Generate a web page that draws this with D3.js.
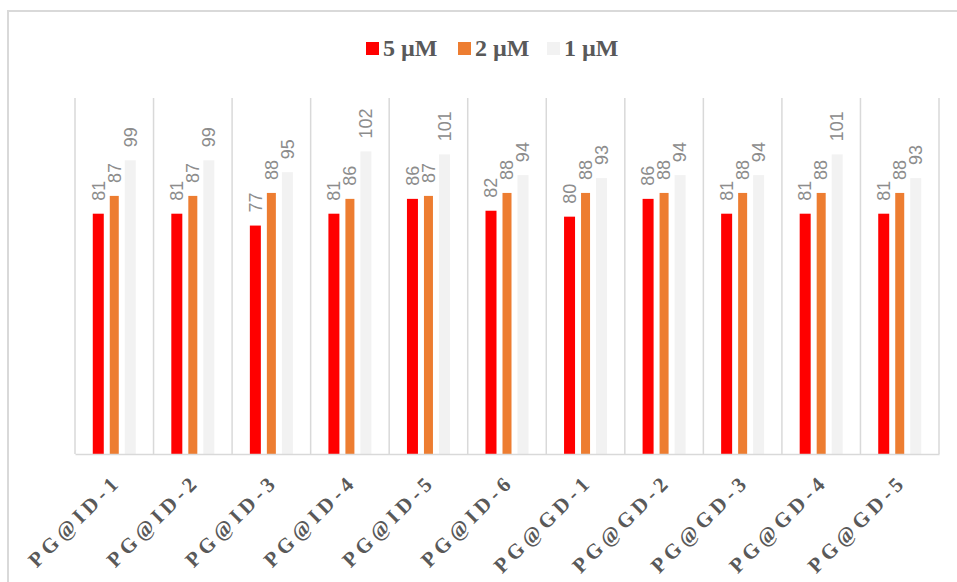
<!DOCTYPE html>
<html>
<head>
<meta charset="utf-8">
<script src="https://cdn.jsdelivr.net/npm/d3@7"></script>
<style>
  html, body { margin: 0; padding: 0; background: #fff; }
  svg { display: block; }
</style>
</head>
<body>
<svg id="chart" width="957" height="582"></svg>
<script>
// Samples and concentration series
const categories = ["PG@ID-1", "PG@ID-2", "PG@ID-3", "PG@ID-4", "PG@ID-5", "PG@ID-6",
                    "PG@GD-1", "PG@GD-2", "PG@GD-3", "PG@GD-4", "PG@GD-5"];
const seriesNames = ["5 \u00b5M", "2 \u00b5M", "1 \u00b5M"];
const values5uM = [81, 81, 77, 81, 86, 82, 80, 86, 81, 81, 81];
const values2uM = [87, 87, 88, 86, 87, 88, 88, 88, 88, 88, 88];
const values1uM = [99, 99, 95, 102, 101, 94, 93, 94, 94, 101, 93];
const yDomain = [0, 120];

const colors = ["#ff0000", "#ed7d31", "#f2f2f2"];
const barWidths = [11, 9, 11];
const allSeries = [values5uM, values2uM, values1uM];

const svg = d3.select("#chart");
const plot = { left: 75, right: 939, top: 98, bottom: 454 };

// outer chart frame
svg.append("rect")
  .attr("x", 8).attr("y", 11)
  .attr("width", 970).attr("height", 600)
  .attr("fill", "none").attr("stroke", "#d9d9d9").attr("stroke-width", 2);

const x = d3.scaleBand().domain(categories).range([plot.left, plot.right]).padding(0);
const y = d3.scaleLinear().domain(yDomain).range([plot.bottom, plot.top]);
const sub = d3.scaleBand().domain(d3.range(seriesNames.length))
  .range([-24, 24]).paddingInner(0);

// vertical category separators
const edges = categories.map(c => x(c)).concat([plot.right]);
svg.append("g").selectAll("line").data(edges).join("line")
  .attr("x1", d => d).attr("x2", d => d)
  .attr("y1", plot.top).attr("y2", plot.bottom)
  .attr("stroke", "#d9d9d9").attr("stroke-width", 1.5);

// bars
const rows = [];
categories.forEach((c, i) => {
  allSeries.forEach((s, k) => rows.push({ cat: c, k, v: s[i] }));
});
const cx = d => x(d.cat) + x.bandwidth() / 2 + sub(d.k) + sub.bandwidth() / 2;

svg.append("g").selectAll("rect").data(rows).join("rect")
  .attr("x", d => cx(d) - barWidths[d.k] / 2)
  .attr("width", d => barWidths[d.k])
  .attr("y", d => y(d.v))
  .attr("height", d => y(0) - y(d.v))
  .attr("fill", d => colors[d.k]);

// value labels, rotated
svg.append("g").selectAll("text").data(rows).join("text")
  .attr("transform", d => `translate(${cx(d)},${y(d.v) - 13}) rotate(-90)`)
  .attr("dy", "0.35em")
  .attr("text-anchor", "start")
  .attr("font-family", "Liberation Sans, Arial, sans-serif")
  .attr("font-size", 18)
  .attr("fill", "#8c8c8c")
  .text(d => d.v);

// x axis baseline
const xAxis = d3.axisBottom(x).tickSize(0).tickPadding(0);
const gx = svg.append("g").attr("transform", `translate(0,${plot.bottom})`).call(xAxis);
gx.select(".domain").attr("stroke", "#d9d9d9").attr("stroke-width", 1.5);
gx.selectAll(".tick text")
  .attr("font-family", "Liberation Serif, Times New Roman, serif")
  .attr("font-weight", "bold")
  .attr("font-size", 21)
  .attr("letter-spacing", 4.5)
  .attr("fill", "#595959")
  .attr("text-anchor", "end")
  .attr("dy", null).attr("y", null)
  .attr("transform", "translate(8,29) rotate(-45)");

// legend
const legendX = [366, 458, 547];
const lg = svg.append("g");
seriesNames.forEach((n, k) => {
  lg.append("rect")
    .attr("x", legendX[k]).attr("y", 42)
    .attr("width", 13).attr("height", 13)
    .attr("fill", colors[k]);
  lg.append("text")
    .attr("x", legendX[k] + 17).attr("y", 56)
    .attr("font-family", "Liberation Serif, Times New Roman, serif")
    .attr("font-weight", "bold")
    .attr("font-size", 24)
    .attr("fill", "#595959")
    .text(n);
});
</script>
</body>
</html>
